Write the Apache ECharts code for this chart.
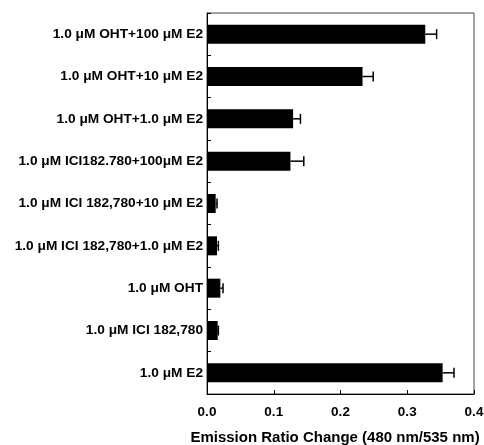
<!DOCTYPE html>
<html>
<head>
<meta charset="utf-8">
<script src="https://cdn.jsdelivr.net/npm/echarts@6/dist/echarts.min.js"></script>
<style>html,body{margin:0;padding:0;background:#fff;}#c{width:484px;height:445px;}</style>
</head>
<body>
<div id="c"></div>
<script>
var categories = [
  "1.0 μM OHT+100 μM E2",
  "1.0 μM OHT+10 μM E2",
  "1.0 μM OHT+1.0 μM E2",
  "1.0 μM ICI182.780+100μM E2",
  "1.0 μM ICI 182,780+10 μM E2",
  "1.0 μM ICI 182,780+1.0 μM E2",
  "1.0 μM OHT",
  "1.0 μM ICI 182,780",
  "1.0 μM E2"
];
var values = [0.327, 0.233, 0.129, 0.125, 0.013, 0.015, 0.020, 0.016, 0.353];
var errors = [0.017, 0.016, 0.011, 0.020, 0.002, 0.002, 0.004, 0.001, 0.017];
var xTicks = [0, 0.1, 0.2, 0.3, 0.4];

var chart = echarts.init(document.getElementById('c'));
var font = 'Liberation Sans, Arial, sans-serif';
chart.setOption({
  animation: false,
  backgroundColor: '#fff',
  grid: {left: 207, right: 10, top: 13, bottom: 51, outerBoundsMode: 'none', containLabel: false, show: true, borderColor: '#444', borderWidth: 1, backgroundColor: 'transparent'},
  xAxis: {
    type: 'value', min: xTicks[0], max: xTicks[xTicks.length - 1], interval: 0.1,
    axisLine: {show: true, lineStyle: {color: '#000', width: 1}},
    axisTick: {show: true, inside: true, length: 4, lineStyle: {color: '#000'}},
    splitLine: {show: false},
    axisLabel: {margin: 11, color: '#000', fontFamily: font, fontWeight: 'bold', fontSize: 13.5, formatter: function (v) { return v.toFixed(1); }},
    name: 'Emission Ratio Change (480 nm/535 nm)', nameLocation: 'middle', nameGap: 36,
    nameTextStyle: {color: '#000', fontFamily: font, fontWeight: 'bold', fontSize: 15, padding: [0, 11, 0, 0]}
  },
  yAxis: {
    type: 'category', data: categories, inverse: true,
    axisLine: {show: true, lineStyle: {color: '#000', width: 1}},
    axisTick: {show: true, inside: true, length: 4, lineStyle: {color: '#000'}},
    axisLabel: {margin: 4, color: '#000', fontFamily: font, fontWeight: 'bold', fontSize: 13.7},
    splitLine: {show: false}
  },
  series: [
    {type: 'bar', data: values, barWidth: 19, itemStyle: {color: '#000'}},
    {
      type: 'custom', z: 3,
      data: values.map(function (v, i) { return [v, i, errors[i]]; }),
      renderItem: function (params, api) {
        var v = api.value(0), i = api.value(1), e = api.value(2);
        var p0 = api.coord([v, i]);
        var p1 = api.coord([v + e, i]);
        var h = 5;
        return {
          type: 'group',
          children: [
            {type: 'line', shape: {x1: p0[0], y1: p0[1], x2: p1[0], y2: p1[1]}, style: {stroke: '#000', lineWidth: 1.5}},
            {type: 'line', shape: {x1: p1[0], y1: p1[1] - h, x2: p1[0], y2: p1[1] + h}, style: {stroke: '#000', lineWidth: 1.5}}
          ]
        };
      }
    }
  ]
});
</script>
</body>
</html>
